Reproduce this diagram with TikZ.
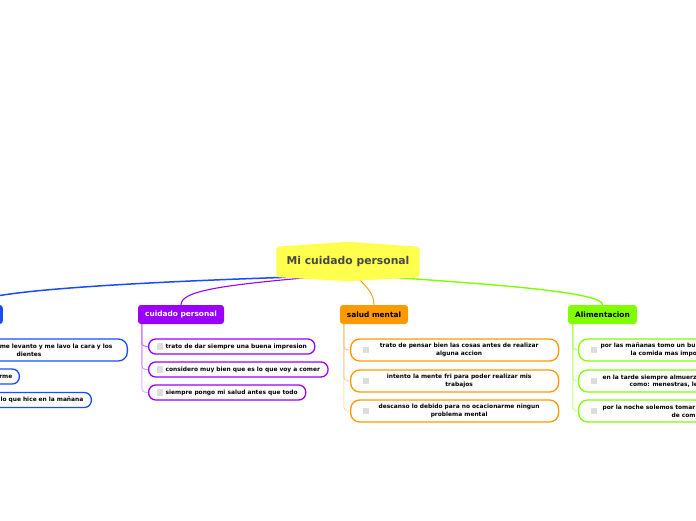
\documentclass[tikz,border=0pt]{standalone}
\usepackage{fontspec}
\setmainfont{DejaVu Sans}
\usepackage{tikz}
\usetikzlibrary{positioning,backgrounds}
\definecolor{mmyellow}{HTML}{FFFF4D}
\definecolor{mmtext}{HTML}{464646}
\definecolor{mmblue}{HTML}{1A4CFF}
\definecolor{mmpurple}{HTML}{9900FF}
\definecolor{mmorange}{HTML}{FF9900}
\definecolor{mmgreen}{HTML}{80FF00}
\definecolor{ckgray}{HTML}{DDDDDD}
\newcommand{\chkbox}{$\vcenter{\hbox{\color{ckgray}\rule{6.5pt}{6.5pt}}}$\hspace{2.5pt}}

\begin{document}
\begin{tikzpicture}[x=1pt, y=-1pt,
    RT/.style={rectangle, font=\fontsize{10.8}{12}\selectfont\bfseries, text=mmtext,
      minimum width=143pt, minimum height=30pt, inner sep=0pt},
    BH/.style={rectangle, rounded corners=3pt, font=\fontsize{7.4}{9}\selectfont\bfseries,
      minimum height=19pt, inner sep=0pt},
    CB/.style={rectangle, rounded corners=7pt, fill=white, line width=1.3pt,
      font=\fontsize{5.9}{7.6}\selectfont\bfseries,
      minimum height=15pt, inner xsep=8pt, inner ysep=2pt},
    CT/.style={CB, rounded corners=9pt, minimum height=22pt, inner xsep=12pt},
    lnk/.style={line cap=round},
    kid/.style={line width=0.9pt, rounded corners=4pt}
  ]
    \useasboundingbox (0,0) rectangle (696,520);

    %% Raiz
    \node[RT] (root) at (348,262) {Mi cuidado personal};

    %% Ramas
    \node[BH, fill=mmblue, anchor=east, minimum width=60pt] (bh) at (3,314.5) {};
    \node[BH, fill=mmpurple, text=white, minimum width=86pt] (ph) at (181,314.5) {cuidado personal};
    \node[BH, fill=mmorange, text=black, minimum width=68pt] (sh) at (374,314.5) {salud mental};
    \node[BH, fill=mmgreen, text=black, minimum width=69pt] (ah) at (602.5,314.5) {Alimentacion};

    %% Hijos (azul, cortados a la izquierda)
    \node[CT, draw=mmblue, anchor=east, text width=120pt, align=right, inner xsep=15pt] (b1) at (128,350)
      {me levanto y me lavo la cara y los\\dientes\hspace*{71pt}\mbox{}};
    \node[CB, draw=mmblue, anchor=east, text width=60pt, align=right, inner xsep=7pt] (b2) at (20,376.5) {rme};
    \node[CB, draw=mmblue, anchor=east, text width=110pt, align=right] (b3) at (92,400) {lo que hice en la mañana};

    %% Hijos cuidado personal
    \node[CB, draw=mmpurple, anchor=west] (p1) at (148,346.5) {\chkbox trato de dar siempre una buena impresion};
    \node[CB, draw=mmpurple, anchor=west] (p2) at (148,369.5) {\chkbox considero muy bien que es lo que voy a comer};
    \node[CB, draw=mmpurple, anchor=west] (p3) at (148,392.5) {\chkbox siempre pongo mi salud antes que todo};

    %% Hijos salud mental
    \node[CT, draw=mmorange, anchor=west] (s1) at (350,350)
      {\chkbox\parbox[c]{175pt}{\centering trato de pensar bien las cosas antes de realizar\\alguna accion}};
    \node[CT, draw=mmorange, anchor=west] (s2) at (350,381)
      {\chkbox\parbox[c]{175pt}{\centering intento la mente fri para poder realizar mis\\trabajos}};
    \node[CT, draw=mmorange, anchor=west] (s3) at (350,411)
      {\chkbox\parbox[c]{175pt}{\centering descanso lo debido para no ocacionarme ningun\\problema mental}};

    %% Hijos Alimentacion (cortados a la derecha)
    \node[CT, draw=mmgreen, anchor=west] (a1) at (578,350)
      {\chkbox\parbox[c]{200pt}{\raggedright\hspace*{1pt}por las mañanas tomo un bu\\\hspace*{31pt}la comida mas impo}};
    \node[CT, draw=mmgreen, anchor=west] (a2) at (578,381)
      {\chkbox\parbox[c]{200pt}{\raggedright\hspace*{3pt}en la tarde siempre almuerz\\\hspace*{30pt}como: menestras, le}};
    \node[CT, draw=mmgreen, anchor=west] (a3) at (578,411)
      {\chkbox\parbox[c]{200pt}{\raggedright\hspace*{3pt}por la noche solemos tomar\\\hspace*{72pt}de com}};

    \begin{scope}[on background layer]
      %% Conectores raiz -> ramas
      \draw[lnk, mmblue, line width=1.5pt] ([xshift=13pt]root.south west)
        .. controls +(-150,5) and +(0,-14) .. (bh.north);
      \draw[lnk, mmpurple, line width=1.1pt] ([xshift=36pt]root.south west)
        .. controls +(-90,8) and +(0,-14) .. (ph.north);
      \draw[lnk, mmorange, line width=0.9pt] ([xshift=9pt]root.south)
        .. controls +(8,8) and +(0,-12) .. (sh.north);
      \draw[lnk, mmgreen, line width=1.4pt] ([xshift=42pt]root.south)
        .. controls +(100,7) and +(0,-13) .. (ah.north);

      %% Conectores ramas -> hijos
      \foreach \k/\c in {p3/30,p2/42,p1/55}
        \draw[kid, mmpurple!\c] ([xshift=4pt]ph.south west) |- (\k.west);
      \foreach \k/\c in {s3/30,s2/42,s1/55}
        \draw[kid, mmorange!\c] ([xshift=4pt]sh.south west) |- (\k.west);
      \foreach \k/\c in {a3/45,a2/55,a1/65}
        \draw[kid, mmgreen!\c] ([xshift=5pt]ah.south west) |- (\k.west);

      %% Forma de la raiz
      \fill[mmyellow, rounded corners=3pt] (root.north west) -- ([yshift=5pt]root.north)
        -- (root.north east) -- (root.south east) -- ([yshift=-4pt]root.south)
        -- (root.south west) -- cycle;
    \end{scope}
\end{tikzpicture}
\end{document}
